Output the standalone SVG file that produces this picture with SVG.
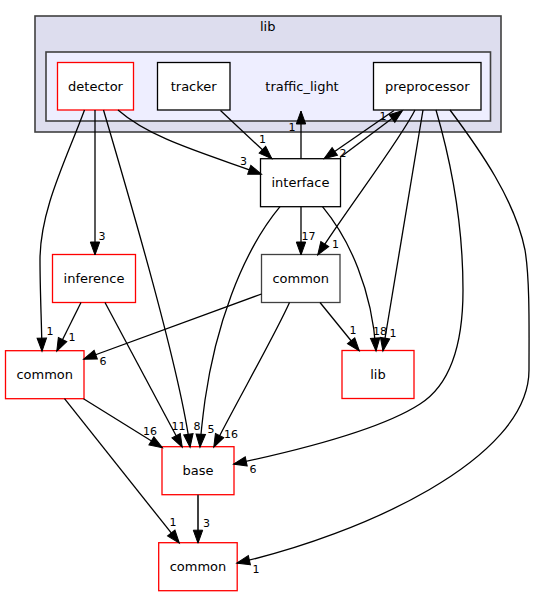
<svg xmlns="http://www.w3.org/2000/svg" width="535" height="596" viewBox="0 0 535 596">
<style>
.node rect{fill:#ffffff;stroke-width:1.3}
.red rect{stroke:#ff0000}
.blk rect{stroke:#000000}
.ntext{font-family:"DejaVu Sans",sans-serif;font-size:13px;fill:#000000;text-anchor:middle}
.edges path{fill:none;stroke:#000000;stroke-width:1.3}
.elabel{font-family:"DejaVu Sans",sans-serif;font-size:11px;fill:#000000;text-anchor:middle}
</style>
<defs>
<marker id="ah" markerUnits="userSpaceOnUse" markerWidth="14" markerHeight="11" refX="12.5" refY="4.7" orient="auto" overflow="visible">
<path d="M0,0 L13,4.7 L0,9.4 z" fill="#000000" stroke="#000000" stroke-width="1"/>
</marker>
<marker id="ahg" markerUnits="userSpaceOnUse" markerWidth="14" markerHeight="11" refX="12.5" refY="4.7" orient="auto" overflow="visible">
<path d="M0,0 L13,4.7 L0,9.4 z" fill="#000000" stroke="#000000" stroke-width="1"/>
</marker>
</defs>
<rect width="535" height="596" fill="#ffffff"/>
<g id="cluster_lib">
<rect x="35" y="16" width="466" height="116" fill="#ddddee" stroke="#404040" stroke-width="1.6"/>
<text class="ntext" x="267.7" y="30.5">lib</text>
</g>
<g id="cluster_traffic_light">
<rect x="46" y="52" width="444.5" height="69" fill="#eeeeff" stroke="#404040" stroke-width="1.6"/>
<text class="ntext" x="302" y="90.5">traffic_light</text>
</g>
<g id="node_detector" class="node red">
<rect x="57.5" y="62.5" width="76" height="47.5"/>
<text class="ntext" x="95.5" y="90.5">detector</text>
</g>
<g id="node_tracker" class="node blk">
<rect x="157.5" y="62.5" width="72.5" height="47.5"/>
<text class="ntext" x="193.7" y="90.5">tracker</text>
</g>
<g id="node_preprocessor" class="node blk">
<rect x="373.5" y="62.5" width="107.5" height="47.5"/>
<text class="ntext" x="427.2" y="90.5">preprocessor</text>
</g>
<g id="node_interface" class="node blk">
<rect x="260.5" y="158.7" width="80" height="48"/>
<text class="ntext" x="300.5" y="186.7">interface</text>
</g>
<g id="node_common_mid" class="node">
<rect x="261.5" y="254.5" width="78.5" height="48" stroke="#404040"/>
<text class="ntext" x="300.7" y="282.5">common</text>
</g>
<g id="node_inference" class="node red">
<rect x="52.5" y="254.5" width="83" height="48"/>
<text class="ntext" x="94" y="282.5">inference</text>
</g>
<g id="node_common_left" class="node red">
<rect x="5.5" y="350.7" width="78.5" height="48"/>
<text class="ntext" x="44.7" y="378.7">common</text>
</g>
<g id="node_lib" class="node red">
<rect x="342" y="350.5" width="72" height="48"/>
<text class="ntext" x="378" y="378.5">lib</text>
</g>
<g id="node_base" class="node red">
<rect x="162" y="446.7" width="72" height="48"/>
<text class="ntext" x="198" y="474.7">base</text>
</g>
<g id="node_common_bottom" class="node red">
<rect x="158.7" y="542.7" width="78.5" height="48"/>
<text class="ntext" x="198" y="570.7">common</text>
</g>
<g id="edges" class="edges">
<path d="M118,110 C150,138 200,152 261,174" marker-end="url(#ah)"/>
<text class="elabel" x="243.5" y="165">3</text>
<path d="M220.5,110.5 L271.5,158.3" marker-end="url(#ah)"/>
<text class="elabel" x="262.5" y="142.5">1</text>
<path d="M301,158.7 L301,111.5" marker-end="url(#ah)"/>
<text class="elabel" x="292" y="131">1</text>
<path d="M340,157.5 L402,111" marker-end="url(#ah)"/>
<text class="elabel" x="383" y="120">1</text>
<path d="M394,110.5 L324.5,158.5" marker-end="url(#ah)"/>
<text class="elabel" x="343" y="157">2</text>
<path d="M301,206.7 L301,254.5" marker-end="url(#ah)"/>
<text class="elabel" x="308.5" y="239.5">17</text>
<path d="M415,110 C400,140 350,205 318,254.5" marker-end="url(#ah)"/>
<text class="elabel" x="335.5" y="247.5">1</text>
<path d="M322.5,206.7 C350,240 372,290 376,350.5" marker-end="url(#ah)"/>
<text class="elabel" x="380" y="335">18</text>
<path d="M423,110 L383,350.5" marker-end="url(#ah)"/>
<text class="elabel" x="393" y="337">1</text>
<path d="M320,302.5 L359,350.5" marker-end="url(#ah)"/>
<text class="elabel" x="353" y="333.5">1</text>
<path d="M95,110 L95,254.5" marker-end="url(#ah)"/>
<text class="elabel" x="102" y="239.5">3</text>
<path d="M84.5,110 C66,160 40,210 40,260 C40,290 41.5,320 42,350.7" marker-end="url(#ah)"/>
<text class="elabel" x="50" y="334.5">1</text>
<path d="M81,302.5 L57,350.7" marker-end="url(#ah)"/>
<text class="elabel" x="72" y="341">1</text>
<path d="M261.5,294 L84,359" marker-end="url(#ah)"/>
<text class="elabel" x="103" y="364.5">6</text>
<path d="M103.5,110 C130,200 180,370 190,446.7" marker-end="url(#ah)"/>
<text class="elabel" x="197" y="429.5">8</text>
<path d="M105,302.5 L182,446.7" marker-end="url(#ah)"/>
<text class="elabel" x="178.5" y="429.5">11</text>
<path d="M280,206.7 C240,255 215,330 205,400 C203,415 201,430 200,446.7" marker-end="url(#ah)"/>
<text class="elabel" x="211" y="432.5">5</text>
<path d="M289.5,302.5 C275,335 235,405 214,446.7" marker-end="url(#ah)"/>
<text class="elabel" x="231" y="438">16</text>
<path d="M83.5,398.7 L162,447.5" marker-end="url(#ah)"/>
<text class="elabel" x="150" y="435">16</text>
<path d="M436,110 C452,165 463,225 463,290 C463,345 450,385 420,404 C380,430 300,450 234,464" marker-end="url(#ah)"/>
<text class="elabel" x="253" y="472.5">6</text>
<path d="M450,110 C480,150 515,200 525,250 C530,280 529,330 529,370 C529,460 360,535 237.2,563" marker-end="url(#ah)"/>
<text class="elabel" x="256" y="572.5">1</text>
<path d="M64.5,398.7 L179,542.7" marker-end="url(#ah)"/>
<text class="elabel" x="173" y="526">1</text>
<path d="M198,494.7 L198,542.7" stroke="#404040" style="stroke:#404040;stroke-width:2" marker-end="url(#ahg)"/>
<text class="elabel" x="206.5" y="527">3</text>
</g>
</svg>
